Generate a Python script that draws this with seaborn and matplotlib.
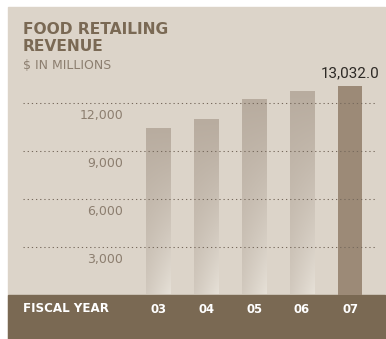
import numpy as np
import pandas as pd
import matplotlib
matplotlib.use("Agg")
import matplotlib.pyplot as plt
import matplotlib.transforms as mtransforms
from matplotlib.patches import Rectangle
import seaborn as sns

# ---- data -------------------------------------------------------------
years = ["03", "04", "05", "06", "07"]
revenue = [10400, 11000, 12200, 12700, 13032.0]
grid_values = [3000, 6000, 9000, 12000]
grid_labels = ["3,000", "6,000", "9,000", "12,000"]
title_text = "FOOD RETAILING\nREVENUE"
unit_text = "$ IN MILLIONS"
axis_text = "FISCAL YEAR"

# ---- style ------------------------------------------------------------
W, H, DPI = 386, 339, 100
PANEL = "#dcd4c9"
BAND = "#7a6953"
TITLE = "#7a6954"
MUTED = "#8c7e6f"
DOTS = "#76695c"
BAR_TOP = np.array([184, 172, 159]) / 255
BAR_BG = np.array([221, 214, 204]) / 255
BAR_LAST = "#9c8a77"

sns.set_theme(style="white")
plt.rcParams["font.family"] = ["DejaVu Sans"]


def fx(px):
    return px / W


def fy(py):
    return 1 - py / H


fig = plt.figure(figsize=(W / DPI, H / DPI), dpi=DPI, facecolor="white")

# panel background and bottom band
fig.patches.append(Rectangle((fx(8), 0), fx(385) - fx(8), fy(7),
                             transform=fig.transFigure, color=PANEL, zorder=-2))
fig.patches.append(Rectangle((fx(8), 0), fx(385) - fx(8), fy(295),
                             transform=fig.transFigure, color=BAND, zorder=-1))

ax = fig.add_axes([fx(23), fy(294.5), fx(375) - fx(23), fy(7) - fy(294.5)])
ax.set_zorder(1)
ax.patch.set_alpha(0)

df = pd.DataFrame({"year": years, "revenue": revenue})
palette = [BAR_TOP] * (len(years) - 1) + [BAR_LAST]
sns.barplot(data=df, x="year", y="revenue", hue="year", order=years,
            hue_order=years, palette=palette, width=0.5, saturation=1,
            linewidth=0, legend=False, ax=ax, zorder=2)

# faded gradient fill for the earlier years
ny, nx = 120, 30
hh = np.linspace(1, 0, ny)[:, None]   # 1 at top, 0 at bottom
xx = np.linspace(0, 1, nx)[None, :]
mix = 0.3 + 0.7 * hh ** 0.9 - 0.55 * xx * (1 - hh) ** 1.5
img = BAR_BG[None, None, :] + (BAR_TOP - BAR_BG)[None, None, :] * mix[:, :, None]
img = np.clip(img, 0, 1)
for patch in ax.patches[:-1]:
    x0, y0 = patch.get_x(), patch.get_y()
    w, h = patch.get_width(), patch.get_height()
    patch.set_facecolor("none")
    im = ax.imshow(img, extent=(x0, x0 + w, y0, y0 + h), aspect="auto",
                   interpolation="bilinear", zorder=2)
    im.set_clip_path(patch)
ax.set_xlim(-2.8125, 4.5208)
ax.set_ylim(0, 287.5 * 62.5)

# dotted gridlines over the bars
for v in grid_values:
    ax.axhline(v, color=DOTS, lw=0.75, linestyle=(0, (1.2, 2.8)), zorder=3)

# value labels beneath each gridline
lab_tr = mtransforms.offset_copy(ax.transData, fig=fig, x=0, y=-16.5, units="dots")
for v, lab in zip(grid_values, grid_labels):
    ax.text(-0.729, v, lab, transform=lab_tr, ha="right", va="baseline",
            fontsize=9, color=MUTED)

# value on the latest bar
ax.annotate(f"{revenue[-1]:,.1f}", xy=(len(years) - 1, revenue[-1]),
            xytext=(0, 6), textcoords="offset points", ha="center",
            va="baseline", fontsize=11, family=["Roboto", "DejaVu Sans"],
            color="#2e2a26")

for s in ax.spines.values():
    s.set_visible(False)
ax.set_yticks([])
ax.set_xlabel("")
ax.set_ylabel("")
ax.tick_params(axis="x", length=0, pad=6.3, labelcolor="white", labelsize=8.4)
for t in ax.get_xticklabels():
    t.set_fontweight("bold")

fig.text(fx(23), fy(312), axis_text, ha="left", va="baseline",
         fontsize=8.6, fontweight="bold", color="white")
fig.text(fx(23), fy(51), title_text, ha="left", va="baseline",
         fontsize=11.2, fontweight="bold", color=TITLE, linespacing=1.2)
fig.text(fx(23), fy(69), unit_text, ha="left", va="baseline",
         fontsize=9, color=MUTED)

fig.savefig("out.png", dpi=DPI, facecolor="white")
